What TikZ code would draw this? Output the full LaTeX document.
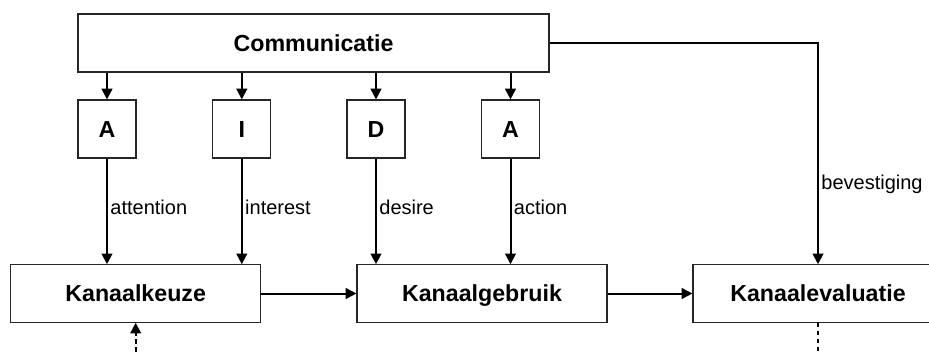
\documentclass[tikz,border=0pt]{standalone}
\usepackage{fontspec}
\setmainfont{Liberation Sans}
\usetikzlibrary{arrows.meta}
\begin{document}
\begin{tikzpicture}[x=0.75pt,y=-0.75pt,
  box/.style={draw=black!85,line width=0.9pt,inner sep=0pt,text height=12.5pt,text depth=0pt,font=\fontsize{17.4}{20}\selectfont\bfseries},
  wide/.style={box,minimum width=187.5pt,minimum height=43pt},
  letter/.style={box,minimum width=43.5pt,minimum height=43.5pt},
  arr/.style={line width=1.5pt,-{Triangle[length=8pt,width=8pt]}},
  dasharr/.style={arr,dash pattern=on 3.5pt off 2.5pt},
  lbl/.style={anchor=west,inner sep=1.8pt,font=\fontsize{15}{18}\selectfont}]
\useasboundingbox (0,0) rectangle (929,351);
\node[box,minimum width=353.25pt,minimum height=43.5pt] (comm) at (313.5,43) {Communicatie};
\node[letter] (a1) at (107,129) {A};
\node[letter] (a2) at (241.8,129) {I};
\node[letter] (a3) at (376,129) {D};
\node[letter] (a4) at (510.5,129) {A};
\node[wide] (keuze) at (135.7,293.5) {Kanaalkeuze};
\node[wide] (gebruik) at (482,293.5) {Kanaalgebruik};
\node[wide] (eval) at (818,293.5) {Kanaalevaluatie};
\foreach \n in {a1,a2,a3,a4}{
  \draw[arr] (comm.south -| \n.north) -- (\n.north);
}
\draw[arr] (a1.south) -- node[lbl,pos=0.46] {attention} (a1.south |- keuze.north);
\draw[arr] (a2.south) -- node[lbl,pos=0.46] {interest} (a2.south |- keuze.north);
\draw[arr] (a3.south) -- node[lbl,pos=0.46] {desire} (a3.south |- gebruik.north);
\draw[arr] (a4.south) -- node[lbl,pos=0.46] {action} (a4.south |- gebruik.north);
\draw[arr] (comm.east) -| node[lbl,pos=0.82] {bevestiging} (eval.north);
\draw[arr] (keuze.east) -- (gebruik.west);
\draw[arr] (gebruik.east) -- (eval.west);
\coordinate (d1) at (135.7,360);
\coordinate (d2) at (818,360);
\draw[dasharr] (d1) -- (keuze.south);
\draw[line width=1.5pt,dash pattern=on 3.5pt off 2.5pt] (eval.south) -- (d2);
\end{tikzpicture}
\end{document}
